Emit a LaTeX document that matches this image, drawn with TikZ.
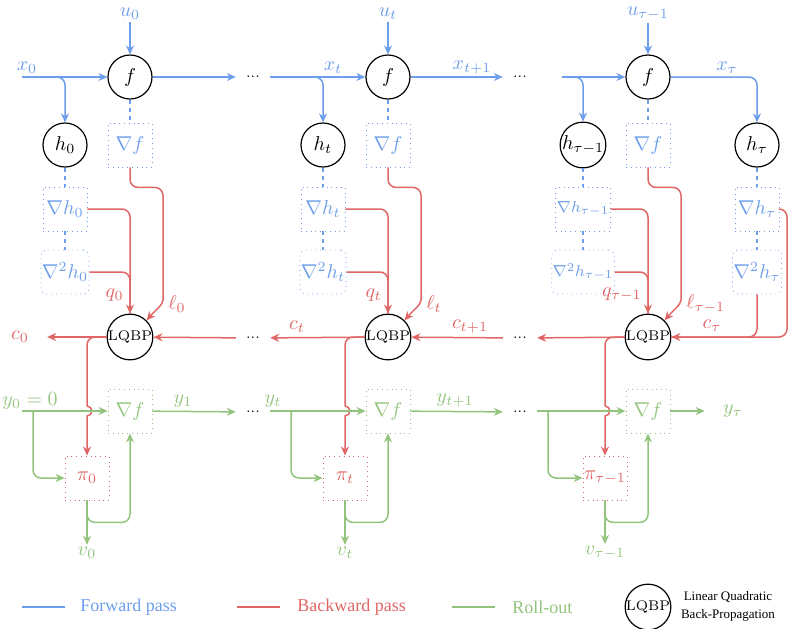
\documentclass[tikz,border=0pt]{standalone}
\usepackage{fontspec}
\newfontfamily\legfont{Liberation Serif}
\usetikzlibrary{arrows.meta,calc}
\definecolor{fwdblue}{HTML}{6D9EEB}
\definecolor{bwdred}{HTML}{E06666}
\definecolor{rolgreen}{HTML}{93C47D}
\tikzset{
  blk/.style={circle,draw=black,line width=0.6pt,minimum size=22pt,inner sep=0pt},
  fbox/.style={draw=fwdblue,dotted,text=fwdblue,minimum size=22pt,inner sep=0.5pt},
  gbox/.style={draw=rolgreen,dotted,text=rolgreen,minimum size=22pt,inner sep=0.5pt},
  rbox/.style={draw=bwdred,dotted,text=bwdred,minimum size=22pt,inner sep=0.5pt},
  fwd/.style={draw=fwdblue,line width=0.75pt},
  bwd/.style={draw=bwdred,line width=0.75pt},
  rol/.style={draw=rolgreen,line width=0.75pt},
  arr/.style={-{Stealth[length=4.5pt,width=4pt]}},
  lblu/.style={text=fwdblue,inner sep=1pt},
  lred/.style={text=bwdred,inner sep=1pt},
  lgrn/.style={text=rolgreen,inner sep=1pt},
  gap/.style={shorten >=5pt},
  ell/.style={inner sep=0pt,font=\scriptsize},
  hdash/.style={draw=fwdblue,line width=0.6pt,dash pattern=on 2pt off 2pt}
}
\begin{document}
\begin{tikzpicture}[x=0.5pt,y=-0.5pt]
\useasboundingbox (0,0) rectangle (789,628);
% One time step, repeated
\foreach \cx/\n/\s/\fz in {0/a/0/\normalsize, 258/b/t/\normalsize, 518/c/{\tau-1}/\footnotesize}{
  \node[blk] (f\n) at ({\cx+130},77) {$f$};
  \node[blk] (h\n) at ({\cx+65},145) {$h_{\s}$};
  \node[fbox] (gf\n) at ({\cx+130},145) {$\nabla f$};
  \node[fbox,font=\fz] (dh\n) at ({\cx+65},209) {$\nabla h_{\s}$};
  \node[fbox,font=\fz,rounded corners=3pt] (ddh\n) at ({\cx+65},272) {$\nabla^2 h_{\s}$};
  \node[blk,font=\scriptsize] (lq\n) at ({\cx+130},337) {LQBP};
  \node[gbox] (gy\n) at ({\cx+130},411) {$\nabla f$};
  \node[rbox] (pi\n) at ({\cx+87},478) {$\pi_{\s}$};
  \node[lblu] (u\n) at ({\cx+130},14) {$u_{\s}$};
  \node[lgrn] (v\n) at ({\cx+87},553) {$v_{\s}$};
  \node[lred,anchor=east] (q\n) at ({\cx+126},295) {$q_{\s}$};
  \node[lred,anchor=west] (l\n) at ({\cx+166},304) {$\ell_{\s}$};
  % forward
  \draw[fwd,arr] (u\n) -- (f\n);
  \draw[hdash] (f\n) -- (gf\n);
  \draw[hdash] (h\n) -- (dh\n);
  \draw[hdash] (dh\n) -- (ddh\n);
  % backward
  \draw[bwd,arr,rounded corners=4pt] (dh\n.east) -| (lq\n.north);
  \draw[bwd,rounded corners=4pt] (ddh\n.east) -| (lq\n.north);
  \draw[bwd,arr,rounded corners=4pt] (gf\n.south) -- ++(0,20) -- ++(33,0)
    -- ({\cx+163},292) to[out=-90,in=50] (lq\n.north east);
  \draw[bwd,rounded corners=4pt] (lq\n.west) -| ({\cx+87},406);
  \draw[bwd,arr] ({\cx+87},406) to[out=0,in=0,looseness=1.6] ({\cx+87},416) -- (pi\n.north);
  % roll-out
  \draw[rol,arr] (pi\n.south) -- (v\n.north);
  \draw[rol,arr,rounded corners=4pt] (pi\n.south) -- ++(0,22) -| (gy\n.south);
}
% last state
\node[blk] (hT) at (757,145) {$h_\tau$};
\node[fbox] (dhT) at (757,209) {$\nabla h_\tau$};
\node[fbox,rounded corners=3pt] (ddhT) at (757,272) {$\nabla^2 h_\tau$};
\draw[hdash] (hT) -- (dhT);
\draw[hdash] (dhT) -- (ddhT);
% dots between steps
\node[ell] (d1) at (253,77) {...};
\node[ell] (d2) at (520,77) {...};
\node[ell] (d3) at (253,338) {...};
\node[ell] (d4) at (520,338) {...};
\node[ell] (d5) at (253,412) {...};
\node[ell] (d6) at (520,412) {...};
% forward pass
\coordinate (xa) at (22,77);
\coordinate (xb) at (270,77);
\coordinate (xc) at (562,77);
\node[lblu] (x0) at (27,68) {$x_0$};
\node[lblu] (xt) at (333,68) {$x_t$};
\node[lblu] (xt1) at (472,68) {$x_{t+1}$};
\node[lblu] (xT) at (727,68) {$x_\tau$};
\draw[fwd,arr] (xa) -- (fa);
\draw[fwd,arr,rounded corners=4pt] (xa) -| (ha);
\draw[fwd,arr,gap] (fa) -- (d1);
\draw[fwd,arr] (xb) -- (fb);
\draw[fwd,arr,rounded corners=4pt] (xb) -| (hb);
\draw[fwd,arr,gap] (fb) -- (d2);
\draw[fwd,arr] (xc) -- (fc);
\draw[fwd,arr,rounded corners=4pt] (xc) -| (hc);
\draw[fwd,arr,rounded corners=4pt] (fc) -| (hT);
% backward pass
\node[lred] (c0) at (20,337) {$c_0$};
\node[lred] (ct) at (297,327) {$c_t$};
\node[lred] (ct1) at (470,327) {$c_{t+1}$};
\node[lred] (cT) at (712,326) {$c_\tau$};
\draw[bwd,arr,shorten >=8pt] (lqa) -- (c0);
\draw[bwd,arr,shorten <=5pt] (d3) -- (lqa);
\draw[bwd,arr,gap] (lqb) -- (d3);
\draw[bwd,arr,shorten <=5pt] (d4) -- (lqb);
\draw[bwd,arr,gap] (lqc) -- (d4);
\draw[bwd,arr,rounded corners=4pt] (dhT.east) -- (787,209) -- (787,337) -- (lqc.east);
\draw[bwd,rounded corners=4pt] (ddhT.south) |- (lqc.east);
% roll-out
\coordinate (ya) at (22,411);
\coordinate (yb) at (270,411);
\coordinate (yc) at (537,411);
\node[lgrn] (y0) at (30,401) {$y_0=0$};
\node[lgrn] (y1) at (183,401) {$y_1$};
\node[lgrn] (yt) at (273,401) {$y_t$};
\node[lgrn] (yt1) at (455,401) {$y_{t+1}$};
\node[lgrn] (yT) at (733,411) {$y_\tau$};
\draw[rol,arr] (ya) -- (gya);
\draw[rol,arr,rounded corners=4pt] (33,411) |- (pia.west);
\draw[rol,arr,gap] (gya) -- (d5);
\draw[rol,arr] (yb) -- (gyb);
\draw[rol,arr,rounded corners=4pt] (291,411) |- (pib.west);
\draw[rol,arr,gap] (gyb) -- (d6);
\draw[rol,arr] (yc) -- (gyc);
\draw[rol,arr,rounded corners=4pt] (548,411) |- (pic.west);
\draw[rol,arr,shorten >=8pt] (gyc) -- (yT);
% legend
\coordinate (k1) at (22,607);
\coordinate (k2) at (237,607);
\coordinate (k3) at (452,607);
\node[lblu,anchor=west,font=\legfont\fontsize{9}{10}\selectfont] (kf) at (78,607) {Forward pass};
\node[lred,anchor=west,font=\legfont\fontsize{9}{10}\selectfont] (kb) at (295,607) {Backward pass};
\node[lgrn,anchor=west,font=\legfont\fontsize{9}{10}\selectfont] (kr) at (510,607) {Roll-out};
\draw[fwd] (k1) -- ++(43,0);
\draw[bwd] (k2) -- ++(43,0);
\draw[rol] (k3) -- ++(43,0);
\node[blk,font=\scriptsize] (klq) at (648,607) {LQBP};
\node[align=center,font=\legfont\fontsize{6.5}{9}\selectfont] (kt) at (728,606) {Linear Quadratic\\Back-Propagation};
\end{tikzpicture}
\end{document}
